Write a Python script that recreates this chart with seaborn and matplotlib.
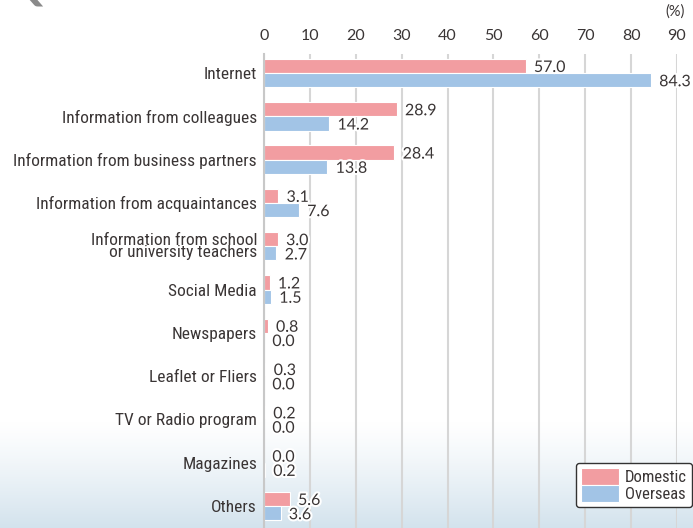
import numpy as np
import pandas as pd
import matplotlib.pyplot as plt
import matplotlib.patheffects as pe
import seaborn as sns

# =========================
# Data
# =========================
categories = [
    "Internet",
    "Information from colleagues",
    "Information from business partners",
    "Information from acquaintances",
    "Information from school\nor university teachers",
    "Social Media",
    "Newspapers",
    "Leaflet or Fliers",
    "TV or Radio program",
    "Magazines",
    "Others",
]
domestic = [57.0, 28.9, 28.4, 3.1, 3.0, 1.2, 0.8, 0.3, 0.2, 0.0, 5.6]
overseas = [84.3, 14.2, 13.8, 7.6, 2.7, 1.5, 0.0, 0.0, 0.0, 0.2, 3.6]
series = ["Domestic", "Overseas"]
colors = ["#F29DA1", "#A2C4E6"]

df = pd.DataFrame({
    "category": categories * 2,
    "value": domestic + overseas,
    "group": [series[0]] * len(categories) + [series[1]] * len(categories),
})

# =========================
# Setup
# =========================
sns.set_style("white")
LABEL_FONT = ["Roboto Condensed", "DejaVu Sans"]
NUM_FONT = ["Lato", "DejaVu Sans"]
TXT = "#3a3535"

W, H = 693, 528
fig = plt.figure(figsize=(W / 100, H / 100), dpi=100)

# background gradient (white -> pale blue at the bottom)
bg = fig.add_axes([0, 0, 1, 1], zorder=0)
yy = np.linspace(0, 1, 300)
t = np.clip((yy - 0.80) / 0.20, 0, 1) ** 1.2
top = np.array([1.0, 1.0, 1.0])
bot = np.array([0.83, 0.89, 0.93])
grad = (top[None, :] * (1 - t[:, None]) + bot[None, :] * t[:, None])[:, None, :]
bg.imshow(grad, extent=[0, 1, 0, 1], aspect="auto", origin="upper")
bg.set_axis_off()

# faint heading, cut off by the top edge as in the source
fig.text(4 / W, 1 - 7 / H, "Q1", fontsize=34, color="#8a8a8a",
         fontweight="bold", va="bottom", ha="left", family=NUM_FONT)

ax = fig.add_axes([264 / W, 0, (677 - 264) / W, 1 - 54 / H], zorder=1)
ax.set_facecolor("none")

sns.barplot(
    data=df, x="value", y="category", hue="group",
    orient="h", palette=colors, width=0.66, saturation=1,
    edgecolor="white", linewidth=0.8, ax=ax,
)

# =========================
# Axes styling
# =========================
ax.set_xlim(0, 90)
ax.set_ylim(10.508, -0.439)
ax.set_xticks(range(0, 91, 10))
ax.xaxis.tick_top()
ax.tick_params(axis="x", length=0, pad=8, labelsize=11.5, labelcolor=TXT)
ax.tick_params(axis="y", length=0, pad=5, labelsize=12.5, labelcolor=TXT)
for lbl in ax.get_xticklabels():
    lbl.set_family(NUM_FONT)
for lbl in ax.get_yticklabels():
    lbl.set_family(LABEL_FONT)
    lbl.set_linespacing(0.8)
ax.set_xlabel("")
ax.set_ylabel("")
ax.grid(True, axis="x", color="#d6d6d6", linewidth=1.5)
ax.grid(False, axis="y")
ax.set_axisbelow(True)
for s in ["top", "right", "bottom"]:
    ax.spines[s].set_visible(False)
ax.spines["left"].set_color("#c8c8c8")
ax.spines["left"].set_linewidth(1.5)

fig.text(675 / W, 1 - 12 / H, "(%)", fontsize=10.5, color=TXT,
         ha="center", va="center", family=NUM_FONT)

# =========================
# Value labels
# =========================
halo = [pe.withStroke(linewidth=3, foreground="white")]
for container, vals in zip(ax.containers, [domestic, overseas]):
    for bar, v in zip(container.patches, vals):
        yc = bar.get_y() + bar.get_height() / 2
        ax.annotate(
            f"{v:.1f}", xy=(v, yc), xytext=(6, -1.5),
            textcoords="offset points", ha="left", va="center",
            fontsize=11.5, color=TXT, family=NUM_FONT,
            path_effects=halo, annotation_clip=False,
        )

# =========================
# Legend
# =========================
ax.legend_.remove()
handles, labels = ax.get_legend_handles_labels()
leg = fig.legend(
    handles, labels, loc="lower right",
    bbox_to_anchor=(692 / W, 1 - 507 / H), bbox_transform=fig.transFigure,
    frameon=True, fancybox=True, edgecolor="#333333", framealpha=1,
    handlelength=2.3, handleheight=1.2, handletextpad=0.35,
    labelspacing=0.0, borderpad=0.3, borderaxespad=0,
    prop={"family": LABEL_FONT, "size": 12},
)
for txt in leg.get_texts():
    txt.set_color(TXT)

fig.savefig("out.png", dpi=100)
plt.close(fig)
